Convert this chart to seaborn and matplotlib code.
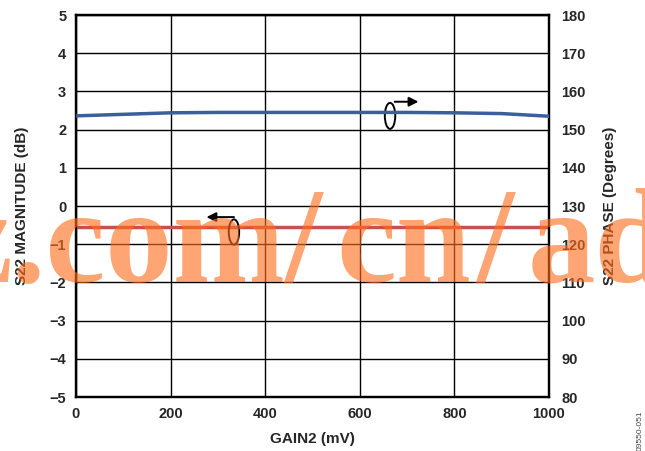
import numpy as np
import pandas as pd
import matplotlib
matplotlib.use("Agg")
import matplotlib.pyplot as plt
from matplotlib.patches import Ellipse
import seaborn as sns

# data
gain2_mv = [0, 100, 200, 300, 400, 500, 600, 700, 800, 900, 1000]
s22_phase_deg = [153.6, 154.0, 154.4, 154.5, 154.5, 154.5, 154.5, 154.5, 154.4, 154.2, 153.5]
s22_mag_db = [-0.56, -0.56, -0.56, -0.56, -0.56, -0.56, -0.56, -0.56, -0.56, -0.56, -0.56]

mag_ticks = [-5, -4, -3, -2, -1, 0, 1, 2, 3, 4, 5]
mag_labels = ["\u22125", "\u22124", "\u22123", "\u22122", "\u22121", "0", "1", "2", "3", "4", "5"]
phase_ticks = [80, 90, 100, 110, 120, 130, 140, 150, 160, 170, 180]
x_ticks = [0, 200, 400, 600, 800, 1000]

df = pd.DataFrame({"gain2": gain2_mv, "phase": s22_phase_deg, "mag": s22_mag_db})

sns.set_style("white")
plt.rcParams['font.family'] = ['Liberation Sans', 'DejaVu Sans']

fig = plt.figure(figsize=(6.45, 4.51), dpi=100)
ax = fig.add_axes([0.1178, 0.1197, 0.7333, 0.847])
ax2 = ax.twinx()

sns.lineplot(data=df, x="gain2", y="mag", ax=ax, color="#c9504f", linewidth=2.5, zorder=3)
sns.lineplot(data=df, x="gain2", y="phase", ax=ax2, color="#3a5f9b", linewidth=2.5, zorder=3)

ax.set_xlim(0, 1000)
ax.set_ylim(-5, 5)
ax2.set_ylim(80, 180)
ax.set_xticks(x_ticks)
ax.set_yticks(mag_ticks)
ax.set_yticklabels(mag_labels)
ax2.set_yticks(phase_ticks)

ax.grid(True, color="black", linewidth=1.0)
ax2.grid(False)
for a in (ax, ax2):
    for s in a.spines.values():
        s.set_color("black")
        s.set_linewidth(1.6)
    a.tick_params(length=0, labelsize=10.5, pad=7)
    for lab in a.get_xticklabels() + a.get_yticklabels():
        lab.set_fontweight("bold")
ax2.tick_params(pad=9)

ax.set_xlabel("GAIN2 (mV)", fontsize=11, fontweight="bold", labelpad=8)
ax.set_ylabel("S22 MAGNITUDE (dB)", fontsize=11, fontweight="bold", labelpad=15)
ax2.set_ylabel("S22 PHASE (Degrees)", fontsize=11, fontweight="bold", labelpad=12)

# curve markers: ellipse + arrow pointing to the matching axis
ax.add_patch(Ellipse((664, 2.36), 22, 0.68, fill=False, edgecolor="black", linewidth=1.4, zorder=5))
ax.annotate("", xy=(730, 2.73), xytext=(668, 2.73),
            arrowprops=dict(arrowstyle="-|>", color="black", lw=1.4, mutation_scale=14), zorder=5)
ax.add_patch(Ellipse((334, -0.68), 22, 0.66, fill=False, edgecolor="black", linewidth=1.4, zorder=5))
ax.annotate("", xy=(270, -0.29), xytext=(340, -0.29),
            arrowprops=dict(arrowstyle="-|>", color="black", lw=1.4, mutation_scale=14), zorder=5)

# watermark, in pieces to follow its wide letter spacing
wm_style = dict(fontsize=97, fontweight="bold", family=["Liberation Serif", "DejaVu Serif"],
                color="#ff6e1e", alpha=0.62, ha="left", va="baseline", zorder=10)
fig.text(-0.074, 0.375, "z.com", **wm_style)
for piece, px in [("/", 284), ("cn", 336), ("/", 476), ("ad", 528)]:
    fig.text(px / 645, 0.375, piece, **wm_style)

fig.text(0.993, 0.0, "09550-051", rotation=90, fontsize=6, color="#444444",
         ha="center", va="bottom")

fig.savefig("out.png", dpi=100)
